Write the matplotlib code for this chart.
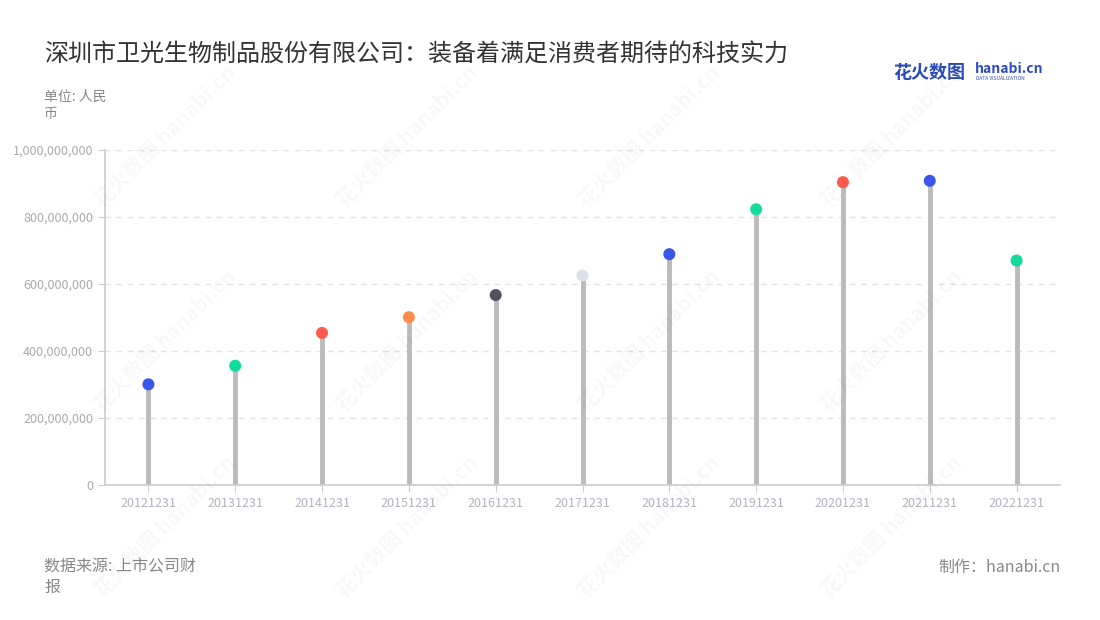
import matplotlib.pyplot as plt
import numpy as np
from matplotlib.ticker import FuncFormatter

plt.rcParams['font.family'] = ['Noto Sans CJK SC', 'DejaVu Sans']

# 数据
years = ['20121231', '20131231', '20141231', '20151231', '20161231', '20171231',
         '20181231', '20191231', '20201231', '20211231', '20221231']
revenue = [300.5e6, 356e6, 454e6, 501e6, 567e6, 625e6,
           689e6, 823e6, 904e6, 908e6, 670e6]
dot_colors = ['#3a56e8', '#12dc9c', '#ff5a50', '#ff8a4c', '#52525e', '#dce0ea',
              '#3a56e8', '#12dc9c', '#ff5a50', '#3a56e8', '#12dc9c']

fig = plt.figure(figsize=(11, 6.2), dpi=100)
ax = fig.add_axes([105 / 1100, 135 / 620, 955 / 1100, 335 / 620])

x = np.arange(len(years))
ax.vlines(x, 0, revenue, colors='#bbbbbb', linewidth=3.5, zorder=2)
ax.scatter(x, revenue, s=75, c=dot_colors, zorder=3, edgecolors='none')

ax.set_xlim(-0.5, len(years) - 0.5)
ax.set_ylim(0, 1e9)
ax.set_yticks(np.arange(0, 1.01e9, 2e8))
ax.yaxis.set_major_formatter(FuncFormatter(lambda v, p: f'{int(v):,}'))
ax.set_xticks(x)
ax.set_xticklabels(years)

ax.grid(axis='y', linestyle=(0, (4, 4)), color='#e3e3e3', linewidth=1)
ax.set_axisbelow(True)
for s in ['top', 'right']:
    ax.spines[s].set_visible(False)
for s in ['left', 'bottom']:
    ax.spines[s].set_color('#cccccc')
    ax.spines[s].set_linewidth(1.2)
ax.tick_params(axis='y', colors='#cccccc', labelcolor='#aaaaaa', labelsize=9, length=5)
ax.tick_params(axis='x', colors='#cccccc', labelcolor='#b0b4c2', labelsize=9, length=5)

# 水印
for wx, wy in [(0.15, 0.78), (0.15, 0.45), (0.15, 0.15), (0.37, 0.78), (0.37, 0.45), (0.37, 0.15),
               (0.59, 0.78), (0.59, 0.45), (0.59, 0.15), (0.81, 0.78), (0.81, 0.45), (0.81, 0.15)]:
    fig.text(wx, wy, '花火数图 hanabi.cn', rotation=45, fontsize=15, color='#000000',
             alpha=0.03, ha='center', va='center', fontweight='bold')

# 标题和说明
fig.text(44 / 1100, 1 - 55 / 620, '深圳市卫光生物制品股份有限公司：装备着满足消费者期待的科技实力',
         fontsize=17.3, color='#333333', va='center')
fig.text(44 / 1100, 1 - 105 / 620, '单位: 人民\n币', fontsize=10, color='#888888',
         va='center', linespacing=1.3)
fig.text(44 / 1100, 1 - 577 / 620, '数据来源: 上市公司财\n报', fontsize=11.5, color='#888888',
         va='center', linespacing=1.25)
fig.text(1061 / 1100, 1 - 567 / 620, '制作：hanabi.cn', fontsize=11.5, color='#888888',
         va='center', ha='right')

# logo
fig.text(893 / 1100, 1 - 72 / 620, '花火数图', fontsize=13, color='#2a4bb8',
         fontweight='bold', va='center')
fig.text(975 / 1100, 1 - 69 / 620, 'hanabi.cn', fontsize=10, color='#2a4bb8',
         fontweight='bold', va='center')
fig.text(976 / 1100, 1 - 79 / 620, 'DATA VISUALIZATION', fontsize=3.5, color='#2a4bb8',
         va='center')

fig.savefig('out.png', dpi=100)
